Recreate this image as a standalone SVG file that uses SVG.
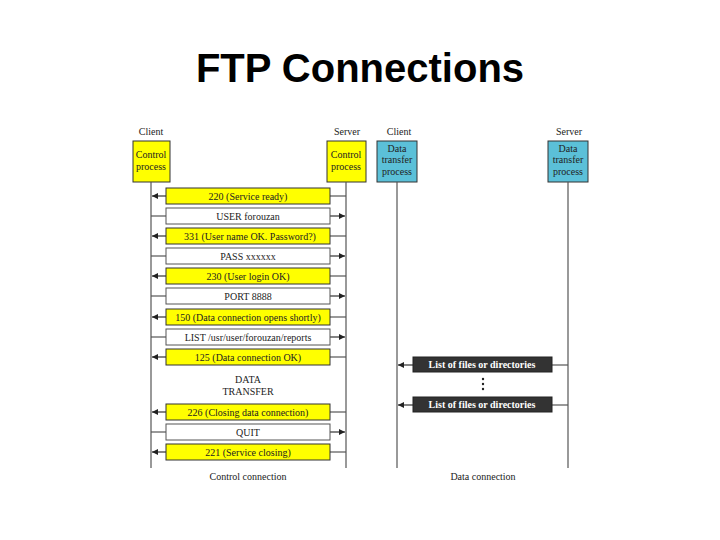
<svg xmlns="http://www.w3.org/2000/svg" width="720" height="540" viewBox="0 0 720 540">
<defs>
<marker id="ah" viewBox="0 0 10 10" refX="10" refY="5" markerWidth="8" markerHeight="6" orient="auto-start-reverse" markerUnits="userSpaceOnUse"><path d="M0,0 L10,5 L0,10 Z" fill="#222"/></marker>
<style>
.s{font-family:"Liberation Serif",serif;font-size:10px;fill:#222;text-anchor:middle}
.y{fill:#ffff00;stroke:#333;stroke-width:1}
.w{fill:#fff;stroke:#555;stroke-width:1}
.c{fill:#5bc0d8;stroke:#333;stroke-width:1}
.k{fill:#333;stroke:#222}
.b{font-family:"Liberation Serif",serif;font-size:10px;font-weight:bold;fill:#fff;text-anchor:middle}
.l{stroke:#555;stroke-width:1.2;fill:none}
.a{stroke:#333;stroke-width:1.2;fill:none;marker-end:url(#ah)}
</style>
</defs>
<rect width="720" height="540" fill="#fff"/>
<text x="360" y="82" text-anchor="middle" font-family="Liberation Sans,Arial,sans-serif" font-size="40" font-weight="bold" fill="#000">FTP Connections</text>
<g id="headers">
<text class="s" x="151" y="135">Client</text>
<text class="s" x="347" y="135">Server</text>
<text class="s" x="399" y="135">Client</text>
<text class="s" x="569" y="135">Server</text>
</g>
<g id="client-control"><rect class="y" x="133" y="141" width="37" height="41"/><text class="s" x="151" y="158">Control</text><text class="s" x="151" y="170">process</text></g>
<g id="server-control"><rect class="y" x="327" y="141" width="39" height="41"/><text class="s" x="346" y="158">Control</text><text class="s" x="346" y="170">process</text></g>
<g id="client-data"><rect class="c" x="377" y="141" width="40" height="41"/><text class="s" x="397" y="152">Data</text><text class="s" x="397" y="163">transfer</text><text class="s" x="397" y="175">process</text></g>
<g id="server-data"><rect class="c" x="548" y="141" width="40" height="41"/><text class="s" x="568" y="152">Data</text><text class="s" x="568" y="163">transfer</text><text class="s" x="568" y="175">process</text></g>
<g id="connectors">
<line class="l" x1="151" y1="182" x2="151" y2="468"/>
<line class="l" x1="346" y1="182" x2="346" y2="468"/>
<line class="l" x1="397" y1="182" x2="397" y2="468"/>
<line class="l" x1="568" y1="182" x2="568" y2="468"/>
<g>
<line class="a" x1="166" y1="196" x2="152" y2="196"/><line class="l" x1="330" y1="196" x2="346" y2="196"/>
<line class="l" x1="151" y1="216" x2="166" y2="216"/><line class="a" x1="330" y1="216" x2="345" y2="216"/>
<line class="a" x1="166" y1="236" x2="152" y2="236"/><line class="l" x1="330" y1="236" x2="346" y2="236"/>
<line class="l" x1="151" y1="256" x2="166" y2="256"/><line class="a" x1="330" y1="256" x2="345" y2="256"/>
<line class="a" x1="166" y1="276" x2="152" y2="276"/><line class="l" x1="330" y1="276" x2="346" y2="276"/>
<line class="l" x1="151" y1="296" x2="166" y2="296"/><line class="a" x1="330" y1="296" x2="345" y2="296"/>
<line class="a" x1="166" y1="317" x2="152" y2="317"/><line class="l" x1="330" y1="317" x2="346" y2="317"/>
<line class="l" x1="151" y1="337" x2="166" y2="337"/><line class="a" x1="330" y1="337" x2="345" y2="337"/>
<line class="a" x1="166" y1="357" x2="152" y2="357"/><line class="l" x1="330" y1="357" x2="346" y2="357"/>
<line class="a" x1="166" y1="412" x2="152" y2="412"/><line class="l" x1="330" y1="412" x2="346" y2="412"/>
<line class="l" x1="151" y1="432" x2="166" y2="432"/><line class="a" x1="330" y1="432" x2="345" y2="432"/>
<line class="a" x1="166" y1="452" x2="152" y2="452"/><line class="l" x1="330" y1="452" x2="346" y2="452"/>
<line class="a" x1="413" y1="365" x2="398" y2="365"/><line class="l" x1="552" y1="365" x2="568" y2="365"/>
<line class="a" x1="413" y1="405" x2="398" y2="405"/><line class="l" x1="552" y1="405" x2="568" y2="405"/>
</g>
</g>
<g id="m1"><rect class="y" x="166" y="188" width="164" height="16"/><text class="s" x="248" y="200">220 (Service ready)</text></g>
<g id="m2"><rect class="w" x="166" y="208" width="164" height="16"/><text class="s" x="248" y="220">USER forouzan</text></g>
<g id="m3"><rect class="y" x="166" y="228" width="164" height="16"/><text class="s" x="250" y="240">331 (User name OK. Password?)</text></g>
<g id="m4"><rect class="w" x="166" y="248" width="164" height="16"/><text class="s" x="248" y="260">PASS xxxxxx</text></g>
<g id="m5"><rect class="y" x="166" y="268" width="164" height="16"/><text class="s" x="248" y="280">230 (User login OK)</text></g>
<g id="m6"><rect class="w" x="166" y="288" width="164" height="16"/><text class="s" x="248" y="300">PORT 8888</text></g>
<g id="m7"><rect class="y" x="166" y="309" width="164" height="16"/><text class="s" x="248" y="321">150 (Data connection opens shortly)</text></g>
<g id="m8"><rect class="w" x="166" y="329" width="164" height="16"/><text class="s" x="248" y="341">LIST /usr/user/forouzan/reports</text></g>
<g id="m9"><rect class="y" x="166" y="349" width="164" height="16"/><text class="s" x="248" y="361">125 (Data connection OK)</text></g>
<g id="dt"><text class="s" x="248" y="383">DATA</text><text class="s" x="248" y="395">TRANSFER</text></g>
<g id="m10"><rect class="y" x="166" y="404" width="164" height="16"/><text class="s" x="248" y="416">226 (Closing data connection)</text></g>
<g id="m11"><rect class="w" x="166" y="424" width="164" height="16"/><text class="s" x="248" y="436">QUIT</text></g>
<g id="m12"><rect class="y" x="166" y="444" width="164" height="16"/><text class="s" x="248" y="456">221 (Service closing)</text></g>
<g id="d1"><rect class="k" x="413" y="357" width="139" height="15"/><text class="b" x="482" y="368">List of files or directories</text></g>
<g id="dots"><circle cx="483" cy="379" r="1.2" fill="#222"/><circle cx="483" cy="384" r="1.2" fill="#222"/><circle cx="483" cy="389" r="1.2" fill="#222"/></g>
<g id="d2"><rect class="k" x="413" y="397" width="139" height="15"/><text class="b" x="482" y="408">List of files or directories</text></g>
<text class="s" x="248" y="480">Control connection</text>
<text class="s" x="483" y="480">Data connection</text>
</svg>
